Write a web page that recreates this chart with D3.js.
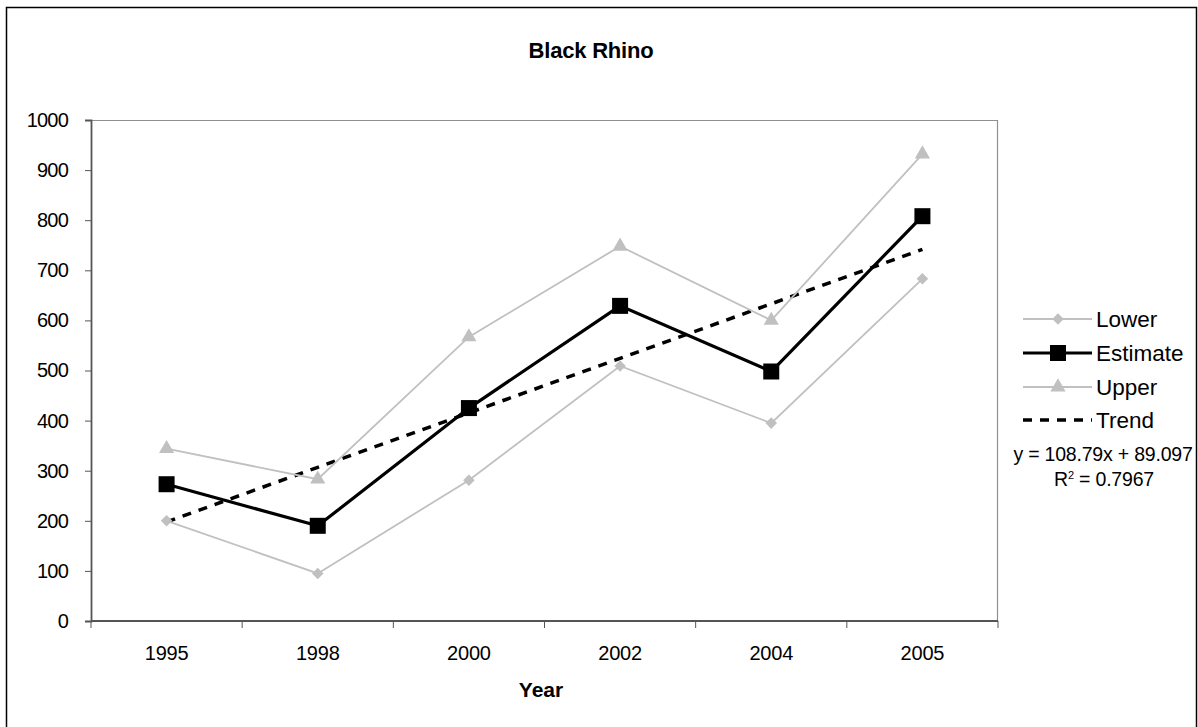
<!DOCTYPE html>
<html>
<head>
<meta charset="utf-8">
<script src="https://cdn.jsdelivr.net/npm/d3@7"></script>
<style>
  html, body { margin: 0; padding: 0; background: #fff; }
  svg { display: block; font-family: "Liberation Sans", Arial, sans-serif; }
</style>
</head>
<body>
<svg id="chart" width="1198" height="727"></svg>
<script>
// Black rhino population: survey years, lower/upper bounds and point estimate
const years = ["1995", "1998", "2000", "2002", "2004", "2005"];
const lower = [200, 95, 281, 509, 395, 683];
const estimate = [273, 190, 425, 629, 498, 808];
const upper = [344, 283, 567, 748, 600, 932];
// Linear trend fitted on the estimate (x = 1..6)
const trendSlope = 108.79;
const trendIntercept = 89.097;
const trendR2 = 0.7967;
const yTicks = [0, 100, 200, 300, 400, 500, 600, 700, 800, 900, 1000];

const svg = d3.select("#chart");
const plot = { left: 91, right: 998, top: 120, bottom: 621 };

// Outer chart frame
svg.append("rect")
  .attr("x", 6.5).attr("y", 7.5)
  .attr("width", 1190).attr("height", 730)
  .attr("fill", "#fff").attr("stroke", "#000").attr("stroke-width", 1.5);

const x = d3.scaleBand().domain(years).range([plot.left, plot.right]);
const y = d3.scaleLinear().domain([0, 1000]).range([plot.bottom, plot.top]);
const cx = d => x(d) + x.bandwidth() / 2;

// Plot area border (top and right)
svg.append("path")
  .attr("d", `M${plot.left},${plot.top + 0.5}H${plot.right - 0.5}V${plot.bottom}`)
  .attr("fill", "none").attr("stroke", "#909090").attr("stroke-width", 1.2);

// Y axis
const yAxis = svg.append("g")
  .attr("transform", `translate(${plot.left},0)`)
  .call(d3.axisLeft(y).tickValues(yTicks).tickSize(6).tickPadding(17).tickFormat(d3.format("d")));
yAxis.select(".domain").attr("stroke", "#555").attr("stroke-width", 1.8);
yAxis.selectAll(".tick line").attr("stroke", "#555");
yAxis.selectAll("text").attr("font-size", 20).attr("fill", "#000")
  .attr("letter-spacing", -0.8)
  .attr("font-family", "Liberation Sans, Arial, sans-serif");

// X axis with ticks between categories
const xg = svg.append("g").attr("transform", `translate(0,${plot.bottom})`);
xg.append("line")
  .attr("x1", plot.left).attr("x2", plot.right)
  .attr("stroke", "#555").attr("stroke-width", 1.8);
const boundaries = years.map(d => x(d)).concat([x(years[years.length - 1]) + x.bandwidth()]);
xg.selectAll("line.tk").data(boundaries).join("line")
  .attr("class", "tk")
  .attr("x1", d => d).attr("x2", d => d)
  .attr("y1", 0).attr("y2", 7)
  .attr("stroke", "#555").attr("stroke-width", 1);
xg.selectAll("text").data(years).join("text")
  .attr("x", d => cx(d)).attr("y", 39)
  .attr("text-anchor", "middle")
  .attr("font-size", 20).attr("letter-spacing", -0.2)
  .text(d => d);

// Title and axis title
svg.append("text")
  .attr("x", 591).attr("y", 58)
  .attr("text-anchor", "middle")
  .attr("font-size", 22).attr("font-weight", "bold")
  .attr("letter-spacing", -0.2)
  .text("Black Rhino");
svg.append("text")
  .attr("x", 541).attr("y", 697)
  .attr("text-anchor", "middle")
  .attr("font-size", 21).attr("font-weight", "bold")
  .text("Year");

const line = d3.line().x(d => cx(d.year)).y(d => y(d.value));
const toPts = arr => years.map((yr, i) => ({ year: yr, value: arr[i] }));

// Trend line (from the fitted equation)
const trend = years.map((yr, i) => ({ year: yr, value: trendSlope * (i + 1) + trendIntercept }));
svg.append("path").datum(trend)
  .attr("d", line)
  .attr("fill", "none").attr("stroke", "#000")
  .attr("stroke-width", 3.5).attr("stroke-dasharray", "9,8");

const grey = "#c0c0c0";
const diamond = d3.symbol().type(d3.symbolDiamond2).size(85);
const triangle = d3.symbol().type(d3.symbolTriangle).size(100);

// Lower bound
svg.append("path").datum(toPts(lower))
  .attr("d", line).attr("fill", "none").attr("stroke", grey).attr("stroke-width", 1.8);
svg.selectAll("path.lo").data(toPts(lower)).join("path")
  .attr("class", "lo")
  .attr("d", diamond)
  .attr("transform", d => `translate(${cx(d.year)},${y(d.value)})`)
  .attr("fill", grey);

// Upper bound
svg.append("path").datum(toPts(upper))
  .attr("d", line).attr("fill", "none").attr("stroke", grey).attr("stroke-width", 1.8);
svg.selectAll("path.up").data(toPts(upper)).join("path")
  .attr("class", "up")
  .attr("d", triangle)
  .attr("transform", d => `translate(${cx(d.year)},${y(d.value)})`)
  .attr("fill", grey);

// Estimate
svg.append("path").datum(toPts(estimate))
  .attr("d", line).attr("fill", "none").attr("stroke", "#000").attr("stroke-width", 3.2);
svg.selectAll("rect.est").data(toPts(estimate)).join("rect")
  .attr("class", "est")
  .attr("x", d => cx(d.year) - 8).attr("y", d => y(d.value) - 8)
  .attr("width", 16).attr("height", 16)
  .attr("fill", "#000");

// Legend
const lg = svg.append("g");
const lx1 = 1023, lx2 = 1092, lmid = 1058, ltx = 1096;
const rows = [
  { name: "Lower", y: 319 },
  { name: "Estimate", y: 353 },
  { name: "Upper", y: 387 },
  { name: "Trend", y: 420 }
];
rows.forEach(r => {
  const ln = lg.append("line")
    .attr("x1", lx1).attr("x2", lx2).attr("y1", r.y).attr("y2", r.y);
  if (r.name === "Lower" || r.name === "Upper") {
    ln.attr("stroke", grey).attr("stroke-width", 1.8);
    lg.append("path")
      .attr("d", r.name === "Lower" ? diamond : triangle)
      .attr("transform", `translate(${lmid},${r.y})`)
      .attr("fill", grey);
  } else if (r.name === "Estimate") {
    ln.attr("stroke", "#000").attr("stroke-width", 3.2);
    lg.append("rect").attr("x", lmid - 8).attr("y", r.y - 8)
      .attr("width", 16).attr("height", 16).attr("fill", "#000");
  } else {
    ln.attr("stroke", "#000").attr("stroke-width", 3.5).attr("stroke-dasharray", "9,8");
  }
  lg.append("text")
    .attr("x", ltx).attr("y", r.y + 7.5)
    .attr("font-size", 22.5).attr("letter-spacing", 0)
    .text(r.name);
});
lg.append("text")
  .attr("x", 1103).attr("y", 461)
  .attr("text-anchor", "middle")
  .attr("font-size", 19.5).attr("letter-spacing", -0.2)
  .text(`y = ${trendSlope}x + ${trendIntercept}`);
const r2 = lg.append("text")
  .attr("x", 1104).attr("y", 486)
  .attr("text-anchor", "middle")
  .attr("font-size", 19.5).attr("letter-spacing", -0.2);
r2.append("tspan").text("R");
r2.append("tspan").attr("dy", -7).attr("font-size", 11).text("2");
r2.append("tspan").attr("dy", 7).text(` = ${trendR2}`);
</script>
</body>
</html>
